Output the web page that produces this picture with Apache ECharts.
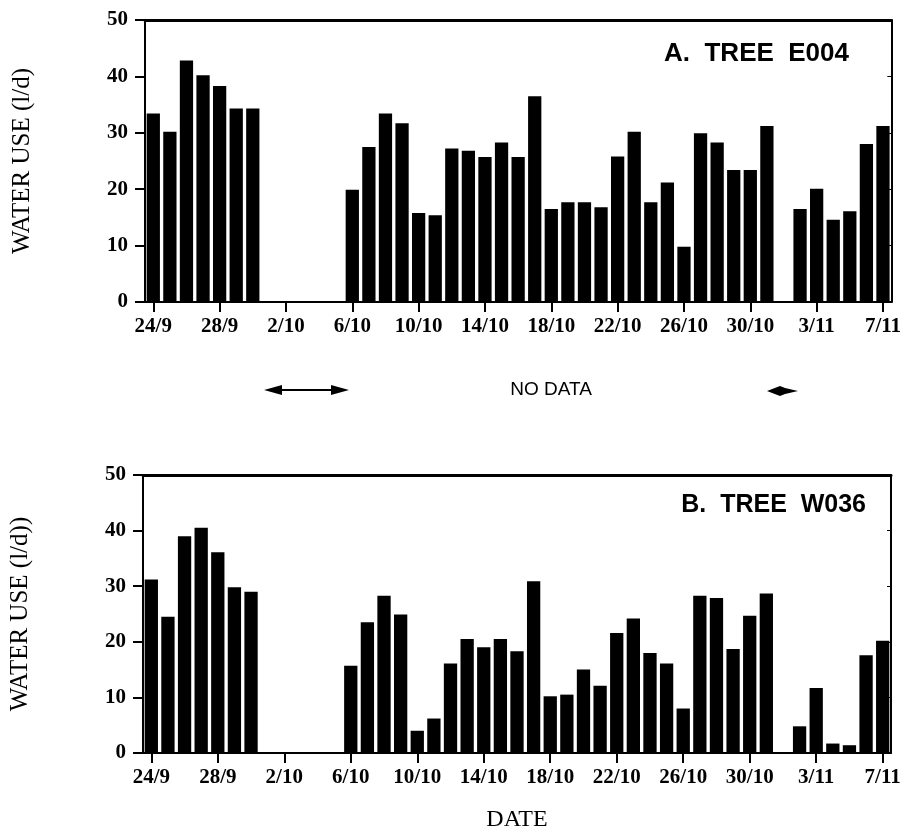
<!DOCTYPE html>
<html>
<head>
<meta charset="utf-8">
<script src="https://cdn.jsdelivr.net/npm/echarts@6/dist/echarts.min.js"></script>
<style>
html,body{margin:0;padding:0;background:#fff;}
#chart{width:904px;height:833px;}
</style>
</head>
<body>
<div id="chart"></div>
<script>
const dates = ['24/9','25/9','26/9','27/9','28/9','29/9','30/9',
  '1/10','2/10','3/10','4/10','5/10','6/10','7/10','8/10','9/10','10/10','11/10','12/10','13/10','14/10','15/10','16/10','17/10','18/10','19/10','20/10','21/10','22/10','23/10','24/10','25/10','26/10','27/10','28/10','29/10','30/10','31/10',
  '1/11','2/11','3/11','4/11','5/11','6/11','7/11'];
const treeE004 = [33.4,30.2,42.8,40.2,38.3,34.3,34.3,null,null,null,null,null,
  19.9,27.5,33.4,31.7,15.8,15.4,27.2,26.8,25.7,28.3,25.7,36.5,16.5,17.7,17.7,16.8,25.8,30.2,17.7,21.2,9.8,29.9,28.3,23.4,23.4,31.2,
  null,16.5,20.1,14.6,16.1,28.0,31.2];
const treeW036 = [31.2,24.5,39.0,40.5,36.1,29.8,29.0,null,null,null,null,null,
  15.7,23.5,28.3,24.9,4.0,6.2,16.1,20.5,19.0,20.5,18.3,30.9,10.2,10.5,15.0,12.1,21.6,24.2,18.0,16.1,8.0,28.3,27.9,18.7,24.7,28.7,
  null,4.8,11.7,1.7,1.4,17.6,20.2];
const yTicks = [0,10,20,30,40,50];
const titleA = 'A.  TREE  E004';
const titleB = 'B.  TREE  W036';
const yNameA = 'WATER USE (l/d)';
const yNameB = 'WATER USE (l/d))';
const xName = 'DATE';
const noData = 'NO DATA';

const serif = '"Liberation Serif","Times New Roman",serif';
const sans = '"Liberation Sans",Arial,sans-serif';

function xAxes(gi){
  return [{
    type:'category', gridIndex:gi, data:dates, position:'bottom',
    axisLine:{onZero:false, lineStyle:{color:'#000',width:2}},
    axisTick:{show:true, interval:3, alignWithLabel:true, length:10, lineStyle:{color:'#000',width:2}},
    axisLabel:{interval:3, margin:14, color:'#000', fontFamily:serif, fontWeight:'bold', fontSize:21},
    splitLine:{show:false}
  },{
    type:'category', gridIndex:gi, data:dates, position:'top',
    axisLine:{show:true, onZero:false, lineStyle:{color:'#000',width:3}},
    axisTick:{show:false}, axisLabel:{show:false}, splitLine:{show:false}
  }];
}
function yAxes(gi, name){
  return [{
    type:'value', gridIndex:gi, min:0, max:50, interval:10, position:'left',
    name:name, nameLocation:'middle', nameGap:110, nameRotate:90,
    nameTextStyle:{color:'#000', fontFamily:serif, fontSize:25},
    axisLine:{show:true, onZero:false, lineStyle:{color:'#000',width:2}},
    axisTick:{show:true, length:10, lineStyle:{color:'#000',width:2}},
    axisLabel:{margin:17, color:'#000', fontFamily:serif, fontWeight:'bold', fontSize:21,
      formatter:function(v){return yTicks.indexOf(v)>=0?String(v):'';}},
    splitLine:{show:false}
  },{
    type:'value', gridIndex:gi, min:0, max:50, interval:10, position:'right',
    axisLine:{show:true, onZero:false, lineStyle:{color:'#000',width:2}},
    axisTick:{show:true, inside:true, length:4, lineStyle:{color:'#000',width:1}},
    axisLabel:{show:false}, splitLine:{show:false}
  }];
}

const chart = echarts.init(document.getElementById('chart'), null, {renderer:'canvas'});
const option = {
  animation:false,
  backgroundColor:'#fff',
  grid:[
    {left:145, right:7, top:20, bottom:531},
    {left:142, right:13, top:475, bottom:80}
  ],
  xAxis:[].concat(xAxes(0), xAxes(1)),
  yAxis:[].concat(yAxes(0,yNameA), yAxes(1,yNameB)),
  series:[
    {type:'bar', xAxisIndex:0, yAxisIndex:0, data:treeE004, barWidth:'80%', itemStyle:{color:'#000'}},
    {type:'bar', xAxisIndex:2, yAxisIndex:2, data:treeW036, barWidth:'80%', itemStyle:{color:'#000'}}
  ],
  graphic:[
    {type:'text', x:849, y:54, style:{text:titleA, fill:'#000', font:'bold 26px '+sans, textAlign:'right', textVerticalAlign:'middle'}},
    {type:'text', x:866, y:505, style:{text:titleB, fill:'#000', font:'bold 25px '+sans, textAlign:'right', textVerticalAlign:'middle'}},
    {type:'text', x:551, y:390, style:{text:noData, fill:'#000', font:'19px '+sans, textAlign:'center', textVerticalAlign:'middle'}},
    {type:'text', x:517, y:820, style:{text:xName, fill:'#000', font:'24px '+serif, textAlign:'center', textVerticalAlign:'middle'}},
    {type:'line', shape:{x1:276, y1:390, x2:337, y2:390}, style:{stroke:'#000', lineWidth:2}},
    {type:'polygon', shape:{points:[[264,390],[282,385],[282,395]]}, style:{fill:'#000'}},
    {type:'polygon', shape:{points:[[349,390],[331,385],[331,395]]}, style:{fill:'#000'}},
    {type:'polygon', shape:{points:[[767,391],[780,386],[785,388],[798,391],[785,394],[780,396]]}, style:{fill:'#000'}}
  ]
};
chart.setOption(option);
</script>
</body>
</html>
